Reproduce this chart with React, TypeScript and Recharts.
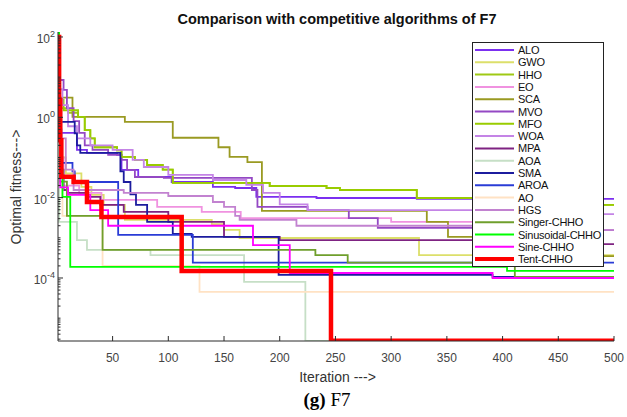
import React from "react";
import { LineChart, Line, XAxis, YAxis } from "recharts";

type Pt = [number, number];

// step breakpoints: [iteration, best fitness]
const alo: Pt[] = [[1, 0.41], [13, 0.41], [18, 0.154], [27, 0.13], [54, 0.116], [58, 0.049], [73, 0.0327], [103, 0.0245], [140, 0.0185], [160, 0.0174], [179, 0.0104], [233, 0.0098], [323, 0.0093], [500, 0.0093]];
const gwo: Pt[] = [[1, 1], [3, 0.1], [8, 0.04], [22, 0.0185], [31, 0.0117], [42, 0.0066], [61, 0.0028], [139, 0.0022], [150, 0.00157], [164, 0.00099], [325, 0.00037], [500, 0.00037]];
const hho: Pt[] = [[1, 1.7], [10, 1.3], [19, 1.02], [25, 0.48], [30, 0.3], [34, 0.18], [54, 0.15], [58, 0.103], [70, 0.087], [81, 0.065], [95, 0.05], [104, 0.0232], [191, 0.0195], [242, 0.0174], [254, 0.0155], [323, 0.0098], [420, 0.0066], [500, 0.0066]];
const eo: Pt[] = [[1, 1], [3, 0.1], [6, 0.02], [20, 0.0131], [40, 0.0088], [90, 0.0059], [130, 0.0044], [165, 0.0031], [300, 0.0025], [420, 0.00157], [500, 0.00157]];
const sca: Pt[] = [[1, 3.1], [14, 1.02], [61, 0.77], [104, 0.31], [145, 0.18], [155, 0.103], [171, 0.077], [184, 0.0047], [332, 0.0025], [351, 0.00105], [420, 0.00035], [500, 0.00035]];
const mvo: Pt[] = [[1, 8.5], [6, 4.8], [9, 1.7], [15, 0.8], [20, 0.41], [25, 0.2], [32, 0.154], [46, 0.116], [58, 0.087], [63, 0.049], [70, 0.0327], [96, 0.0309], [175, 0.0155], [180, 0.0059], [225, 0.0049], [262, 0.0031], [288, 0.00176], [430, 0.00157], [500, 0.00157]];
const mfo: Pt[] = [[1, 2.7], [6, 1.5], [19, 1.02], [25, 0.48], [30, 0.3], [34, 0.18], [54, 0.15], [58, 0.103], [70, 0.087], [81, 0.065], [95, 0.05], [104, 0.0232], [191, 0.0195], [242, 0.0174], [254, 0.0155], [323, 0.0098], [420, 0.0066], [500, 0.0066]];
const woa: Pt[] = [[1, 5], [5, 2], [10, 0.6], [18, 0.3], [30, 0.2], [50, 0.154], [68, 0.087], [78, 0.058], [100, 0.0367], [140, 0.0275], [170, 0.0207], [185, 0.0131], [200, 0.0068], [225, 0.0049], [430, 0.0039], [500, 0.0039]];
const mpa: Pt[] = [[1, 0.5], [3, 0.05], [6, 0.0155], [10, 0.0131], [27, 0.0104], [39, 0.0066], [60, 0.0044], [100, 0.0025], [150, 0.00105], [200, 0.00088], [440, 0.0007], [500, 0.0007]];
const aoa: Pt[] = [[1, 0.15], [2, 0.0025], [18, 0.00088], [27, 0.0005], [84, 0.00037], [168, 0.0000796], [223, 2.72e-6], [500, 2.72e-6]];
const sma: Pt[] = [[1, 0.77], [14, 0.77], [16, 0.4], [18, 0.2], [21, 0.13], [57, 0.045], [60, 0.0245], [66, 0.012], [71, 0.0066], [81, 0.0025], [104, 0.00125], [121, 0.00105], [199, 0.000119], [391, 0.000106], [500, 0.000106]];
const aroa: Pt[] = [[1, 0.5], [4, 0.073], [12, 0.073], [14, 0.045], [16, 0.0245], [55, 0.00118], [122, 0.00024], [500, 0.00024]];
const ao: Pt[] = [[1, 0.3], [2, 0.05], [5, 0.0035], [41, 0.0002], [128, 0.0000449], [500, 0.0000449]];
const hgs: Pt[] = [[1, 2], [4, 0.3], [8, 0.05], [15, 0.0155], [60, 0.0131], [100, 0.011], [140, 0.0078], [150, 0.0059], [160, 0.0035], [164, 0.0028], [215, 0.002], [430, 0.00157], [500, 0.00157]];
const singerChho: Pt[] = [[1, 0.5], [3, 0.025], [9, 0.0035], [41, 0.0005], [232, 0.00037], [261, 0.00024], [411, 0.000106], [500, 0.000106]];
const sinusoidalChho: Pt[] = [[1, 130], [2, 1.5], [3, 0.05], [5, 0.0104], [12, 0.00019], [404, 0.00015], [500, 0.00015]];
const sineChho: Pt[] = [[1, 30], [2, 0.5], [3, 0.018], [10, 0.0117], [30, 0.0049], [46, 0.002], [176, 0.00066], [209, 0.000133], [391, 0.0001], [500, 0.0001]];
const tentChho: Pt[] = [[1, 100], [2, 2.7], [3, 0.27], [4, 0.033], [15, 0.0245], [27, 0.0078], [40, 0.0033], [112, 0.00015], [246, 2.72e-6], [500, 2.72e-6]];

const series = [
  { name: "ALO", color: "#7b2ff0", points: alo },
  { name: "GWO", color: "#dcdf6a", points: gwo },
  { name: "HHO", color: "#9fc915", points: hho },
  { name: "EO", color: "#f092e0", points: eo },
  { name: "SCA", color: "#9a9a22", points: sca },
  { name: "MVO", color: "#9448c4", points: mvo },
  { name: "MFO", color: "#99cc00", points: mfo },
  { name: "WOA", color: "#c484e6", points: woa },
  { name: "MPA", color: "#7f2382", points: mpa },
  { name: "AOA", color: "#c6dfc6", points: aoa },
  { name: "SMA", color: "#1c1c9e", points: sma },
  { name: "AROA", color: "#2a3cd6", points: aroa },
  { name: "AO", color: "#ffe2c4", points: ao },
  { name: "HGS", color: "#c282d0", points: hgs },
  { name: "Singer-CHHO", color: "#6f9f2c", points: singerChho },
  { name: "Sinusoidal-CHHO", color: "#00ff00", points: sinusoidalChho },
  { name: "Sine-CHHO", color: "#ff00ff", points: sineChho },
  { name: "Tent-CHHO", color: "#ff0000", points: tentChho },
];

const xTicks = [50, 100, 150, 200, 250, 300, 350, 400, 450, 500];
const yLabelTicks = [1e-4, 1e-2, 1, 100];
const yLabelExp = ["-4", "-2", "0", "2"];
const yDomain: [number, number] = [2.7e-6, 133];

const yMinorTicks: number[] = [];
for (let k = -6; k <= 2; k++) {
  for (let m = 1; m <= 9; m++) {
    const v = m * Math.pow(10, k);
    if (v < yDomain[0] || v > yDomain[1]) continue;
    if (yLabelTicks.some((t) => Math.abs(Math.log10(t) - Math.log10(v)) < 1e-9)) continue;
    yMinorTicks.push(v);
  }
}
const yTicks = [...yLabelTicks, ...yMinorTicks].sort((a, b) => a - b);

const axisColor = "#2b2b2b";
const sans = "'Liberation Sans', Arial, Helvetica, sans-serif";

function labelIndex(v: number) {
  return yLabelTicks.findIndex((t) => Math.abs(Math.log10(t) - Math.log10(v)) < 1e-9);
}

const LeftTick = (props: any) => {
  const { x, y, payload } = props;
  const idx = labelIndex(payload.value);
  const len = idx >= 0 ? 5 : 2.5;
  return (
    <g>
      <line x1={x} y1={y} x2={x + len} y2={y} stroke={axisColor} strokeWidth={1} />
      {idx >= 0 && (
        <text x={x - 3} y={y + 6} textAnchor="end" fontFamily={sans} fontSize={12} fill="#444">
          10
          <tspan dy={-6} fontSize={9}>{yLabelExp[idx]}</tspan>
        </text>
      )}
    </g>
  );
};

const RightTick = (props: any) => {
  const { x, y, payload } = props;
  const idx = labelIndex(payload.value);
  const len = idx >= 0 ? 5 : 2.5;
  return <line x1={x} y1={y} x2={x - len} y2={y} stroke={axisColor} strokeWidth={1} />;
};

const BottomTick = (props: any) => {
  const { x, y, payload } = props;
  return (
    <g>
      <line x1={x} y1={y} x2={x} y2={y - 5} stroke={axisColor} strokeWidth={1} />
      <text x={x} y={y + 21} textAnchor="middle" fontFamily={sans} fontSize={12} fill="#444">
        {payload.value}
      </text>
    </g>
  );
};

const TopTick = (props: any) => {
  const { x, y } = props;
  return <line x1={x} y1={y} x2={x} y2={y + 5} stroke={axisColor} strokeWidth={1} />;
};

export default function App() {
  const W = 627;
  const H = 417;
  return (
    <div style={{ position: "absolute", left: 0, top: 0, width: W, height: H, background: "#fff" }}>
      <LineChart width={W} height={H} margin={{ top: 32, right: 13, bottom: 0, left: 0 }}>
        <XAxis
          xAxisId="b"
          dataKey="x"
          type="number"
          domain={[1, 500]}
          allowDataOverflow
          ticks={xTicks}
          interval={0}
          height={76}
          tickSize={0}
          tickMargin={0}
          tickLine={false}
          tick={(p: any) => <BottomTick {...p} />}
          axisLine={{ stroke: axisColor }}
        />
        <XAxis
          xAxisId="t"
          orientation="top"
          dataKey="x"
          type="number"
          domain={[1, 500]}
          allowDataOverflow
          ticks={xTicks}
          interval={0}
          height={0}
          tickSize={0}
          tickMargin={0}
          tickLine={false}
          tick={(p: any) => <TopTick {...p} />}
          axisLine={{ stroke: axisColor }}
        />
        <YAxis
          yAxisId="l"
          type="number"
          scale="log"
          domain={yDomain}
          allowDataOverflow
          ticks={yTicks}
          interval={0}
          width={58}
          tickSize={0}
          tickMargin={0}
          tickLine={false}
          tick={(p: any) => <LeftTick {...p} />}
          axisLine={{ stroke: axisColor }}
        />
        <YAxis
          yAxisId="r"
          orientation="right"
          type="number"
          scale="log"
          domain={yDomain}
          allowDataOverflow
          ticks={yTicks}
          interval={0}
          width={0}
          tickSize={0}
          tickMargin={0}
          tickLine={false}
          tick={(p: any) => <RightTick {...p} />}
          axisLine={{ stroke: axisColor }}
        />
        {series.map((s) => (
          <Line
            key={s.name}
            xAxisId="b"
            yAxisId="l"
            data={s.points.map(([x, y]) => ({ x, y }))}
            dataKey="y"
            name={s.name}
            type="stepAfter"
            stroke={s.color}
            strokeWidth={s.name === "Tent-CHHO" ? 4.5 : 1.8}
            dot={false}
            activeDot={false}
            isAnimationActive={false}
          />
        ))}
      </LineChart>
      <svg
        width={W}
        height={H}
        style={{ position: "absolute", left: 0, top: 0, pointerEvents: "none" }}
      >
        <text x={337} y={24} textAnchor="middle" fontFamily={sans} fontSize={14.5} fontWeight="bold" fill="#111">
          Comparison with competitive algorithms of F7
        </text>
        <text
          transform="translate(21,187) rotate(-90)"
          textAnchor="middle"
          fontFamily={sans}
          fontSize={14}
          fill="#333"
        >
          Optimal fitness---&gt;
        </text>
        <text x={337.5} y={382} textAnchor="middle" fontFamily={sans} fontSize={14} fill="#333">
          Iteration ---&gt;
        </text>
        <text x={327} y={406} textAnchor="middle" fontFamily="'Liberation Serif', 'Times New Roman', serif" fontSize={19} fill="#000">
          <tspan fontWeight="bold">(g)</tspan> F7
        </text>
        <rect x={472.5} y={42.5} width={131} height={224} fill="#fff" stroke="#222" strokeWidth={1} />
        {series.map((s, i) => {
          const cy = 50 + i * 12.3;
          return (
            <g key={s.name}>
              <line
                x1={475}
                x2={514}
                y1={cy}
                y2={cy}
                stroke={s.color}
                strokeWidth={s.name === "Tent-CHHO" ? 4 : 2}
              />
              <text x={518} y={cy + 4} fontFamily={sans} fontSize={11} letterSpacing={-0.25} fill="#111">
                {s.name}
              </text>
            </g>
          );
        })}
      </svg>
    </div>
  );
}
